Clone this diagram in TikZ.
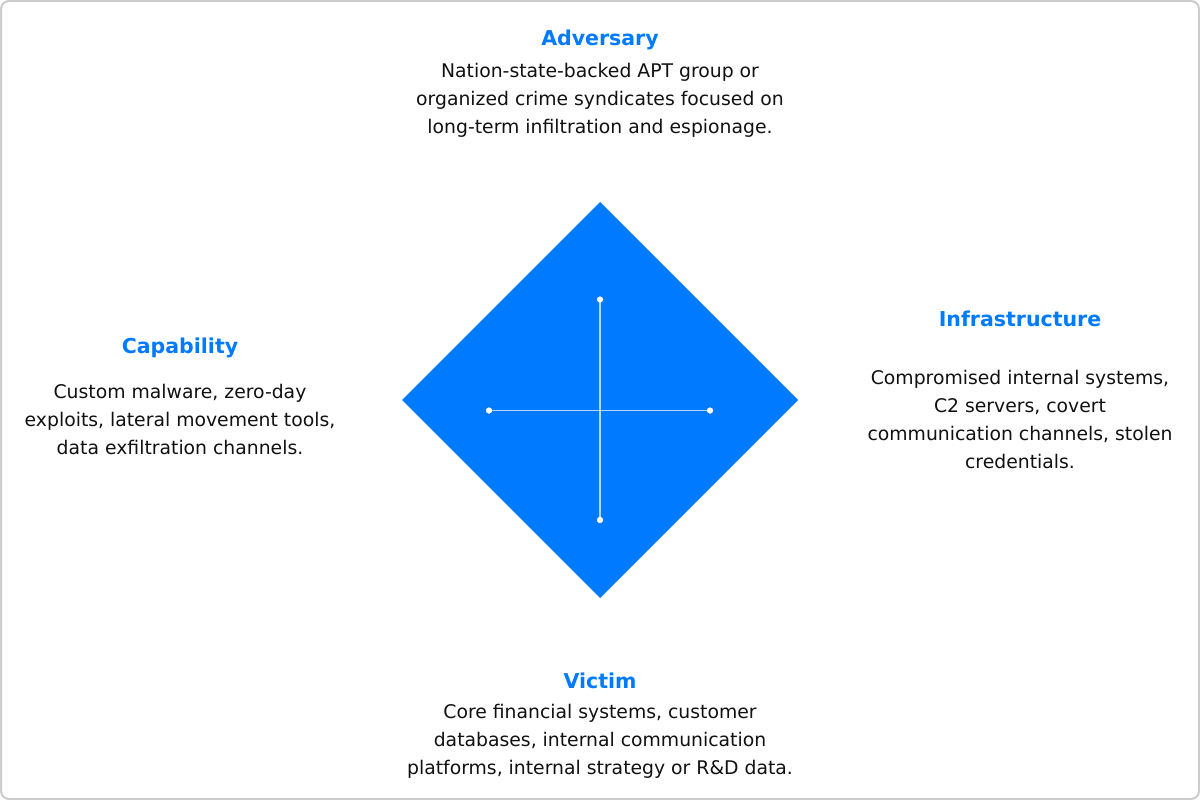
\documentclass[tikz,border=0pt]{standalone}
\usepackage{fontspec}
\setmainfont{DejaVu Sans}
\definecolor{dmblue}{RGB}{0,123,255}
\definecolor{frame}{RGB}{204,204,204}
\definecolor{bodytext}{RGB}{17,17,17}
\tikzset{
  title/.style={text=dmblue,font=\fontsize{20.5}{26}\selectfont\bfseries,inner sep=0pt,anchor=center},
  body/.style={text=bodytext,font=\fontsize{18.8}{28}\selectfont,align=center,inner sep=0pt,anchor=north},
  axis/.style={white,opacity=0.7,line width=1.3pt},
  dot/.style={circle,fill=white,inner sep=0pt,minimum size=6pt}
}
\begin{document}
\begin{tikzpicture}[x=1pt,y=-1pt]
\useasboundingbox (0,0) rectangle (1200,800);
\draw[frame,line width=2pt,rounded corners=8pt] (1,1) rectangle (1199,799);
% diamond
\coordinate (top) at (600,202);
\coordinate (left) at (402,400);
\coordinate (right) at (798,400);
\coordinate (bottom) at (600,598);
\fill[dmblue] (top) -- (right) -- (bottom) -- (left) -- cycle;
% cross
\node[dot] (dA) at (600,299.5) {};
\node[dot] (dV) at (600,520) {};
\node[dot] (dC) at (489,410.5) {};
\node[dot] (dI) at (710,410.5) {};
\draw[axis] (dA.center) -- (dV.center);
\draw[axis] (dC.center) -- (dI.center);
\node[dot] at (600,299.5) {};
\node[dot] at (600,520) {};
\node[dot] at (489,410.5) {};
\node[dot] at (710,410.5) {};
% texts
\node[title] (tA) at (600,40) {Adversary};
\node[body] (bA) at (600,63) {Nation-state-backed APT group or\\organized crime syndicates focused on\\long-term infiltration and espionage.};
\node[title] (tC) at (180,348) {Capability};
\node[body] (bC) at (180,384) {Custom malware, zero-day\\exploits, lateral movement tools,\\data exfiltration channels.};
\node[title] (tI) at (1020,319) {Infrastructure};
\node[body] (bI) at (1020,370) {Compromised internal systems,\\C2 servers, covert\\communication channels, stolen\\credentials.};
\node[title] (tV) at (600,681) {Victim};
\node[body] (bV) at (600,704) {Core financial systems, customer\\databases, internal communication\\platforms, internal strategy or R\&D data.};
\end{tikzpicture}
\end{document}
